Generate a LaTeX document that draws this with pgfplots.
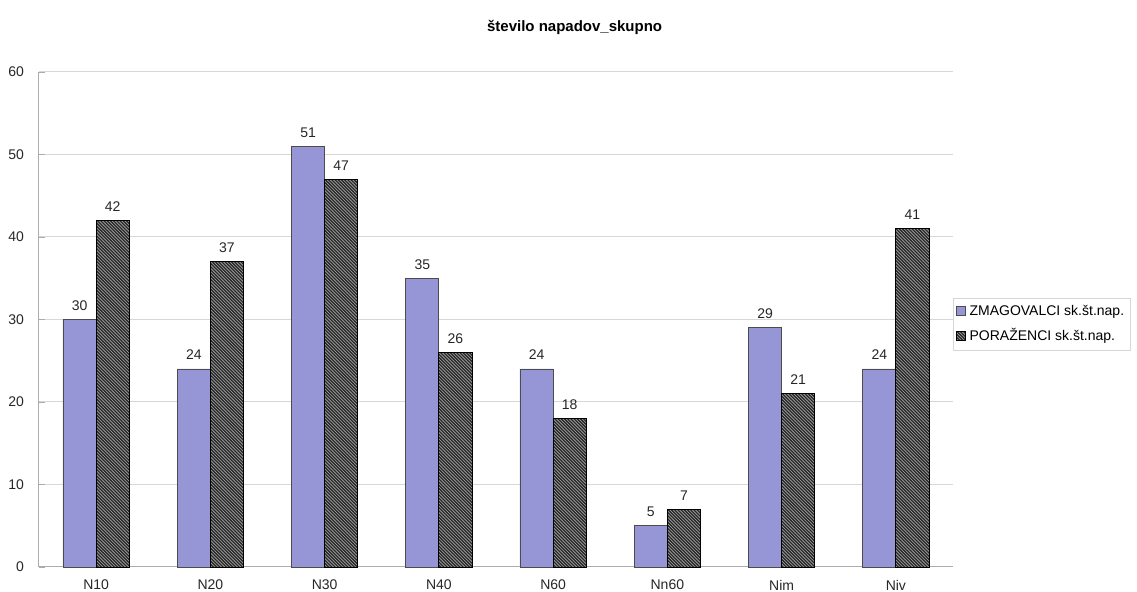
\documentclass[border=0pt]{standalone}
\usepackage{pgfplots}
\pgfplotsset{compat=1.18}
\usepackage{fontspec}
\setmainfont{Liberation Sans}
\usetikzlibrary{patterns}

% dense diagonal hatching for the second series
\pgfdeclarepatternformonly{densehatch}{\pgfqpoint{-1pt}{-1pt}}{\pgfqpoint{3pt}{3pt}}{\pgfqpoint{1.6pt}{1.6pt}}{%
  \pgfsetlinewidth{0.3pt}
  \pgfpathmoveto{\pgfqpoint{0pt}{1.6pt}}
  \pgfpathlineto{\pgfqpoint{1.6pt}{0pt}}
  \pgfusepath{stroke}}

\definecolor{winners}{RGB}{150,150,215}
\definecolor{losersbg}{RGB}{40,40,40}
\definecolor{gridgray}{RGB}{215,215,215}

\begin{document}
\begin{tikzpicture}
\path[use as bounding box] (0,0) rectangle (568.5pt,296pt);
\begin{axis}[
  at={(19.5pt,12.5pt)}, anchor=south west,
  scale only axis, width=457pt, height=247.5pt,
  font=\fontsize{7}{8}\selectfont,
  ybar, bar width=0.29,
  xmin=-0.5, xmax=7.5, ymin=0, ymax=60,
  ytick={0,10,...,60},
  xtick={0,...,7},
  xticklabels={N10,N20,N30,N40,N60,Nn60,Nim,Niv},
  /pgf/number format/assume math mode=true,
  axis x line*=bottom, axis y line*=left,
  axis line style={gridgray!80!black, line width=0.5pt},
  x axis line style={-}, y axis line style={-},
  ymajorgrids, grid style={gridgray, line width=0.5pt},
  major tick length=3pt, tick style={gridgray!80!black},
  xtick style={draw=none},
  tick label style={black!85},
  yticklabel style={xshift=-4pt},
  xticklabel style={yshift=0pt},
  every axis title shift=0pt,
  title={število napadov\_skupno},
  title style={font=\fontsize{7.5}{8.5}\selectfont\bfseries, at={(0.586,1.089)}, anchor=center},
  legend style={at={(1.0,0.49)}, anchor=west, draw=gridgray, font=\fontsize{7}{8}\selectfont,
    legend cell align=left, inner sep=1.2pt, row sep=1pt},
  legend image code/.code={\draw[#1] (0pt,-2pt) rectangle (4.5pt,2.5pt);},
  nodes near coords,
  every node near coord/.append style={font=\fontsize{7}{8}\selectfont, black!85, yshift=1pt},
  clip=false,
]
\addplot[fill=winners, draw=black!70, line width=0.4pt, bar shift=-0.145]
  coordinates {(0,30) (1,24) (2,51) (3,35) (4,24) (5,5) (6,29) (7,24)};
\addplot[fill=losersbg, draw=black, line width=0.4pt, bar shift=0.145,
  postaction={pattern=densehatch, pattern color=gray!65}]
  coordinates {(0,42) (1,37) (2,47) (3,26) (4,18) (5,7) (6,21) (7,41)};
\legend{ZMAGOVALCI sk.št.nap., PORAŽENCI sk.št.nap.}
\end{axis}
\end{tikzpicture}
\end{document}
